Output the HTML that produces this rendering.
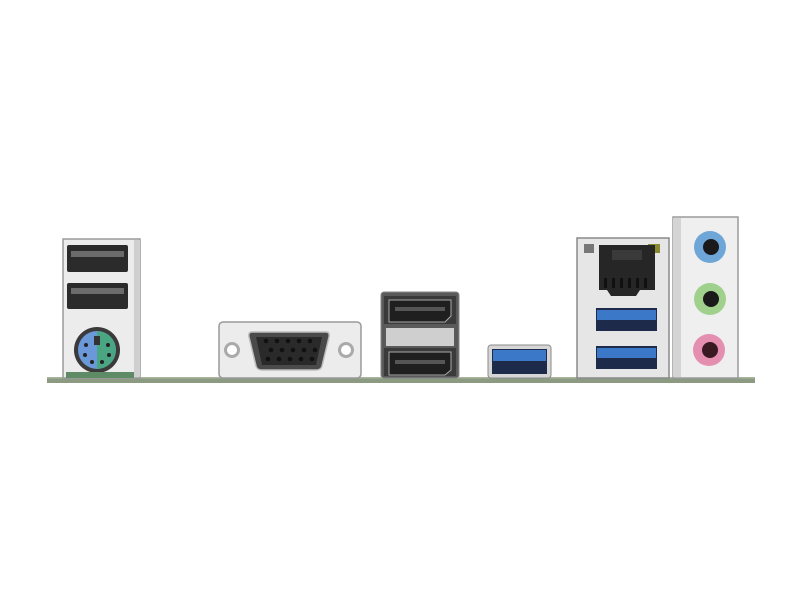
<!DOCTYPE html>
<html><head><meta charset="utf-8"><style>html,body{margin:0;padding:0;background:#fff;width:800px;height:600px;overflow:hidden}</style></head>
<body>
<svg width="800" height="600" viewBox="0 0 800 600" xmlns="http://www.w3.org/2000/svg">
<defs><clipPath id="rh"><rect x="97" y="320" width="30" height="60"/></clipPath></defs>
<rect width="800" height="600" fill="#fff"/>
<rect x="47" y="377" width="708" height="6" fill="#8c9a82"/>
<rect x="47" y="377" width="708" height="1.5" fill="#a9b59e"/>

<rect x="63" y="239" width="77" height="139" fill="#ececec" stroke="#9a9a9a" stroke-width="1.5"/>
<rect x="134" y="240" width="6" height="137" fill="#cfcfcf"/>
<rect x="67" y="245" width="61" height="27" fill="#2b2b2b" rx="2"/>
<rect x="71" y="251" width="53" height="6" fill="#6b6b6b"/>
<rect x="67" y="283" width="61" height="26" fill="#2b2b2b" rx="2"/>
<rect x="71" y="288" width="53" height="6" fill="#6b6b6b"/>
<circle cx="97" cy="350" r="23" fill="#3a3a3a"/>
<circle cx="97" cy="350" r="19" fill="#6a98d8"/>
<circle cx="97" cy="350" r="19" fill="#4aa582" clip-path="url(#rh)"/>
<rect x="94" y="336" width="6" height="9" fill="#333"/>
<g fill="#222"><circle cx="86" cy="345" r="2"/><circle cx="108" cy="345" r="2"/><circle cx="85" cy="355" r="2"/><circle cx="109" cy="355" r="2"/><circle cx="92" cy="362" r="2"/><circle cx="102" cy="362" r="2"/></g>
<rect x="66" y="372" width="68" height="6" fill="#5f8a66"/>

<rect x="219" y="322" width="142" height="56" rx="4" fill="#ececec" stroke="#9a9a9a" stroke-width="1.5"/>
<circle cx="232" cy="350" r="8" fill="#aaa"/><circle cx="232" cy="350" r="5" fill="#fff"/>
<circle cx="346" cy="350" r="8" fill="#aaa"/><circle cx="346" cy="350" r="5" fill="#fff"/>
<path d="M252 332 H326 Q330 332 329 337 L322 366 Q321 370 316 370 H262 Q257 370 256 366 L249 337 Q248 332 252 332 Z" fill="#4a4a4a" stroke="#bdbdbd" stroke-width="1.5"/>
<path d="M256 337 H322 L316 365 H262 Z" fill="#2a2a2a"/>
<g fill="#111"><circle cx="266" cy="341" r="2.3"/><circle cx="277" cy="341" r="2.3"/><circle cx="288" cy="341" r="2.3"/><circle cx="299" cy="341" r="2.3"/><circle cx="310" cy="341" r="2.3"/>
<circle cx="271" cy="350" r="2.3"/><circle cx="282" cy="350" r="2.3"/><circle cx="293" cy="350" r="2.3"/><circle cx="304" cy="350" r="2.3"/><circle cx="315" cy="350" r="2.3"/>
<circle cx="268" cy="359" r="2.3"/><circle cx="279" cy="359" r="2.3"/><circle cx="290" cy="359" r="2.3"/><circle cx="301" cy="359" r="2.3"/><circle cx="312" cy="359" r="2.3"/></g>

<rect x="381" y="292" width="78" height="86" rx="3" fill="#5a5a5a" stroke="#8a8a8a"/>
<rect x="384" y="296" width="72" height="28" fill="#3a3a3a"/>
<path d="M389 300 H451 V316 L445 322 H389 Z" fill="#1f1f1f" stroke="#aaa"/>
<rect x="395" y="307" width="50" height="4" fill="#555"/>
<rect x="386" y="328" width="68" height="18" fill="#cfcfcf"/>
<rect x="384" y="348" width="72" height="28" fill="#3a3a3a"/>
<path d="M389 352 H451 V370 L445 375 H389 Z" fill="#1f1f1f" stroke="#aaa"/>
<rect x="395" y="360" width="50" height="4" fill="#555"/>

<rect x="488" y="345" width="63" height="33" rx="3" fill="#d6d6d6" stroke="#8a8a8a"/>
<rect x="492" y="349" width="55" height="25" fill="#1d2a4a"/>
<rect x="493" y="350" width="53" height="11" fill="#3b78c8"/>

<rect x="577" y="238" width="92" height="140" fill="#e6e6e6" stroke="#8a8a8a" stroke-width="1.5"/>
<rect x="584" y="244" width="10" height="9" fill="#777"/>
<rect x="648" y="244" width="12" height="9" fill="#8a8a30"/>
<path d="M599 245 H655 V290 H640 L636 296 H611 L607 290 H599 Z" fill="#262626"/>
<rect x="612" y="250" width="30" height="10" fill="#3a3a3a"/>
<g fill="#111"><rect x="604" y="278" width="3" height="10"/><rect x="612" y="278" width="3" height="10"/><rect x="620" y="278" width="3" height="10"/><rect x="628" y="278" width="3" height="10"/><rect x="636" y="278" width="3" height="10"/><rect x="644" y="278" width="3" height="10"/></g>
<rect x="596" y="308" width="61" height="23" fill="#1d2a4a"/>
<rect x="597" y="310" width="59" height="10" fill="#3b78c8"/>
<rect x="596" y="346" width="61" height="23" fill="#1d2a4a"/>
<rect x="597" y="348" width="59" height="10" fill="#3b78c8"/>

<rect x="673" y="217" width="65" height="161" fill="#efefef" stroke="#9a9a9a" stroke-width="1.5"/>
<rect x="673" y="218" width="8" height="159" fill="#d4d4d4"/>
<circle cx="710" cy="247" r="16" fill="#6fa6d8"/><circle cx="711" cy="247" r="8" fill="#1a1a1a"/>
<circle cx="710" cy="299" r="16" fill="#9fd08c"/><circle cx="711" cy="299" r="8" fill="#1a1a1a"/>
<circle cx="709" cy="350" r="16" fill="#e48eb0"/><circle cx="710" cy="350" r="8" fill="#3a1a22"/>
</svg>
</body></html>
